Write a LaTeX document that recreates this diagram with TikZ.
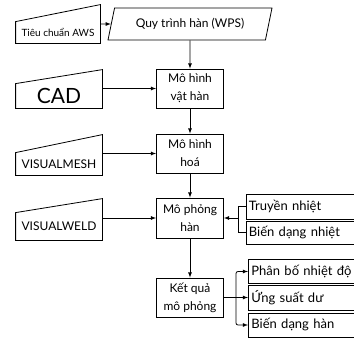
\documentclass[tikz,border=0pt]{standalone}
\usepackage{fontspec}
\setmainfont{Lato}
\usetikzlibrary{shapes.geometric,calc,positioning}
\tikzset{>=latex}

\begin{document}
\begin{tikzpicture}[x=1pt,y=-1pt,line width=0.8pt,
		box/.style={draw,minimum width=67pt,minimum height=39pt,align=center,font=\fontsize{12}{18}\selectfont},
		inbox/.style={minimum width=86pt,inner sep=0pt},
		outbox/.style={draw,anchor=west,text width=104pt,inner xsep=3pt,minimum height=24pt,align=left,font=\fontsize{13}{15}\selectfont}]
		\useasboundingbox (0,0) rectangle (354,338);
		% centre column
		\node[draw,trapezium,trapezium left angle=70,trapezium right angle=110,trapezium stretches body,minimum width=164pt,minimum height=32pt,font=\fontsize{12}{14}\selectfont] (wps) at (190,24) {Quy trình hàn (WPS)};
		\node[box] (part) at (190,88.5) {Mô hình\\vật hàn};
		\node[box] (mesh) at (190,153.5) {Mô hình\\hoá};
		\node[box,minimum height=40pt] (sim) at (190,218) {Mô phỏng\\hàn};
		\node[box] (result) at (190,297.5) {Kết quả\\mô phỏng};
		% inputs
		\node[inbox,minimum width=84pt,minimum height=21pt,font=\fontsize{10}{12}\selectfont] (aws) at (58,32.5) {Tiêu chuẩn AWS};
		\node[inbox,minimum height=24pt,font=\fontsize{21}{24}\selectfont] (cad) at (59,96) {CAD};
		\node[inbox,minimum height=22pt,font=\fontsize{12}{14}\selectfont] (vmesh) at (59,164) {VISUALMESH};
		\node[inbox,minimum height=27pt,font=\fontsize{12}{14}\selectfont] (vweld) at (59,226.5) {VISUALWELD};
		\foreach \n/\h in {aws/17,cad/14,vmesh/18,vweld/14}
			\draw (\n.north west) -- (\n.south west) -- (\n.south east) -- ([yshift=\h pt]\n.north east) -- cycle;
		% outputs
		\node[outbox,minimum height=25pt] (heat) at (245.5,206.5) {Truyền nhiệt};
		\node[outbox,minimum height=23pt] (distort) at (245.5,232.5) {Biến dạng nhiệt};
		\node[outbox] (temp) at (248,271.5) {Phân bố nhiệt độ};
		\node[outbox,minimum height=25pt] (stress) at (248,297.5) {Ứng suất dư};
		\node[outbox] (deform) at (248,325) {Biến dạng hàn};
		% connectors
		\draw[->] (aws.east |- wps) -- (wps);
		\draw[->] (cad.east |- part) -- (part);
		\draw[->] (vmesh.east |- mesh) -- (mesh);
		\draw[->] (vweld.east |- sim) -- (sim);
		\draw[->] (wps) -- (part);
		\draw[->] (part) -- (mesh);
		\draw[->] (mesh) -- (sim);
		\draw[->] (sim) -- (result);
		\coordinate (hj) at (238.5,218);
		\draw (heat.west) -| (hj) |- (distort.west);
		\draw[->] (hj) -- (sim.east);
		\coordinate (rj) at (236,297.5);
		\draw (result.east) -- (rj);
		\draw[->,rounded corners=2pt] (rj) |- (temp.west);
		\draw[->] (rj) -- (stress.west);
		\draw[->,rounded corners=2pt] (rj) |- (deform.west);
	\end{tikzpicture}
\end{document}
